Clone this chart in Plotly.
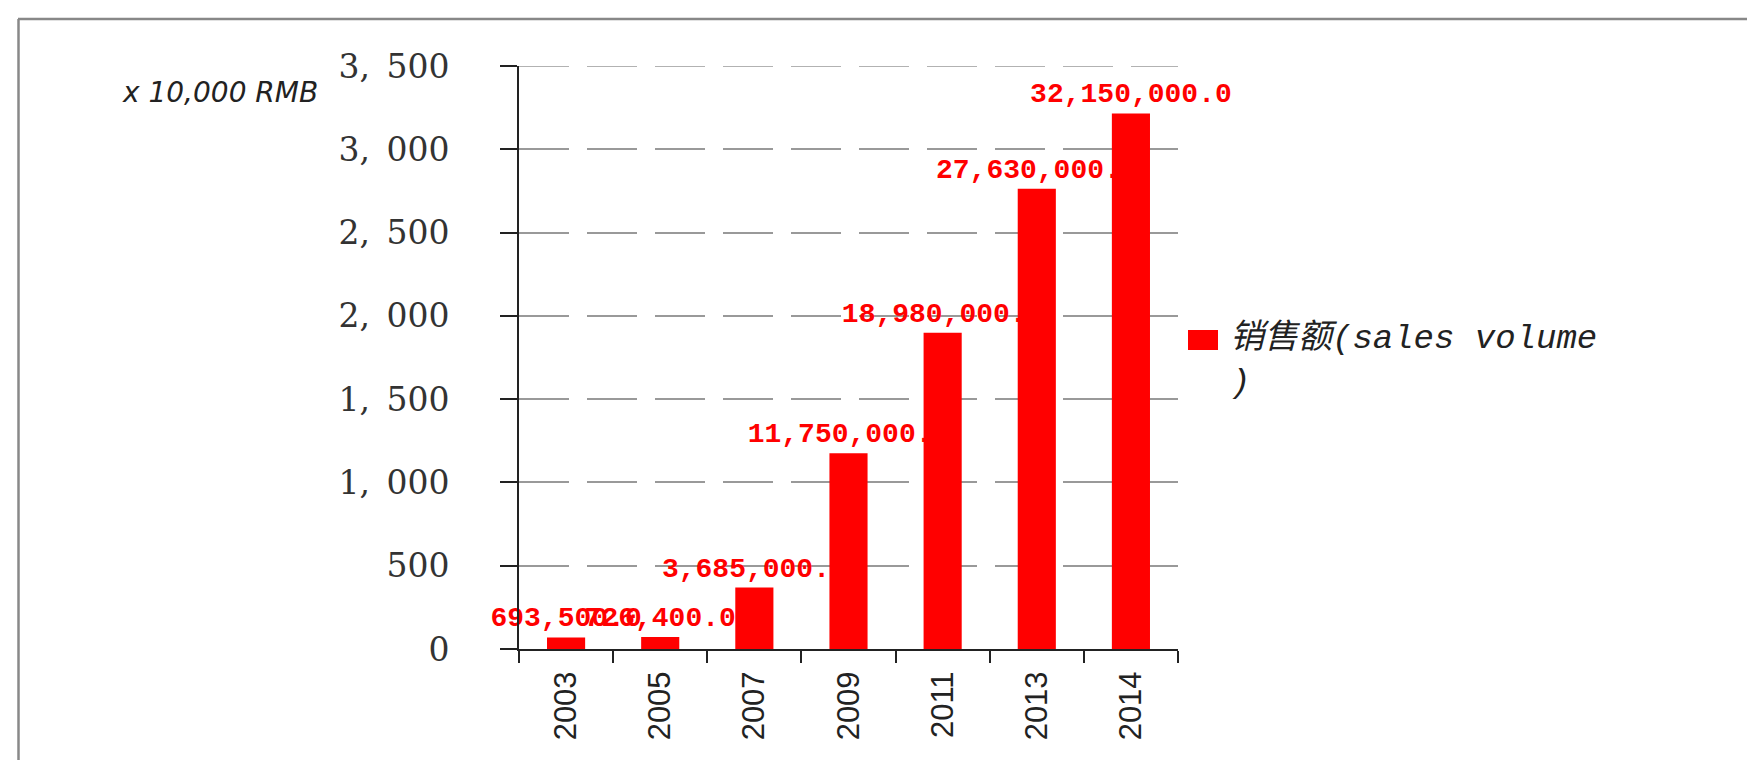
import plotly.graph_objects as go

# ---- data ----
years = ["2003", "2005", "2007", "2009", "2011", "2013", "2014"]
sales_rmb = [693500, 726400, 3685000, 11750000, 18980000, 27630000, 32150000]
unit = 10000  # axis unit: x 10,000 RMB
y_tick_values = [0, 500, 1000, 1500, 2000, 2500, 3000, 3500]
series_name = "销售额(sales volume"
y_unit_label = "x 10,000 RMB"

y_vals = [v / unit for v in sales_rmb]
labels = [f"{v:,.1f}" for v in sales_rmb]
y_tick_text = [f"{v:,}".replace(",", ",\u2002") for v in y_tick_values]

# ---- geometry (pixels) ----
W, H = 1755, 760
L, R, T, B = 511, 1170, 58, 641
pw, ph = R - L, B - T


def px(x):
    return (x - L) / pw


def py(y):
    return (B - y) / ph


fig = go.Figure()
fig.add_trace(go.Bar(
    x=years, y=y_vals, name=series_name,
    marker=dict(color="#ff0000", line=dict(width=0)),
    text=labels, textposition="outside", constraintext="none",
    cliponaxis=False,
    textfont=dict(family="Liberation Mono, DejaVu Sans Mono, monospace",
                  size=28, color="#ff0000", weight="bold"),
    showlegend=False,
))

fig.update_layout(
    width=W, height=H,
    margin=dict(l=L, r=W - R, t=T, b=H - B, pad=0),
    paper_bgcolor="white", plot_bgcolor="white",
    bargap=0.595,
    xaxis=dict(
        type="category", range=[-0.5, 6.5],
        showline=True, linecolor="#222", linewidth=2,
        ticks="outside", tickson="boundaries", ticklen=12, tickwidth=2, tickcolor="#222",
        tickangle=-90, ticklabelstandoff=8,
        tickfont=dict(family="Liberation Sans, Arial, sans-serif", size=31, color="#222"),
        showgrid=False, zeroline=False,
    ),
    yaxis=dict(
        range=[0, y_tick_values[-1]],
        tickvals=y_tick_values, ticktext=y_tick_text,
        showline=True, linecolor="#222", linewidth=2,
        ticks="outside", ticklen=17, tickwidth=2, tickcolor="#222",
        ticklabelstandoff=44,
        tickfont=dict(family="DejaVu Serif, serif", size=33, color="#333"),
        showgrid=True, gridcolor="#999999", gridwidth=1.5, griddash="50px,18px",
        zeroline=False,
    ),
)

# top gridline (at the edge of the range, which Plotly skips)
fig.add_shape(type="line", xref="paper", yref="y",
              x0=0, x1=1, y0=y_tick_values[-1], y1=y_tick_values[-1],
              line=dict(color="#999999", width=1.5, dash="50px,18px"), layer="below")

# axis unit label
fig.add_annotation(
    x=px(312), y=py(84), xref="paper", yref="paper",
    xanchor="right", yanchor="middle", showarrow=False,
    text=y_unit_label,
    font=dict(family="DejaVu Sans, sans-serif", size=28, color="#222", style="italic"),
)

# legend (manual, to match the large swatch)
fig.add_shape(type="rect", xref="paper", yref="paper",
              x0=px(1180), x1=px(1210), y0=py(342), y1=py(322),
              fillcolor="#ff0000", line=dict(width=0))
fig.add_annotation(
    x=px(1220), y=py(352), xref="paper", yref="paper",
    xanchor="left", yanchor="middle", align="left", showarrow=False,
    text=series_name + "<br>)",
    font=dict(family="Liberation Mono, Noto Sans CJK SC, monospace", size=34,
              color="#222", style="italic"),
)

# outer frame
fig.add_shape(type="line", xref="paper", yref="paper",
              x0=px(10), x1=px(1760), y0=py(11), y1=py(11),
              line=dict(color="#888", width=2.5))
fig.add_shape(type="line", xref="paper", yref="paper",
              x0=px(10.5), x1=px(10.5), y0=py(11), y1=py(775),
              line=dict(color="#888", width=2.5))

fig.write_html("out.html")
